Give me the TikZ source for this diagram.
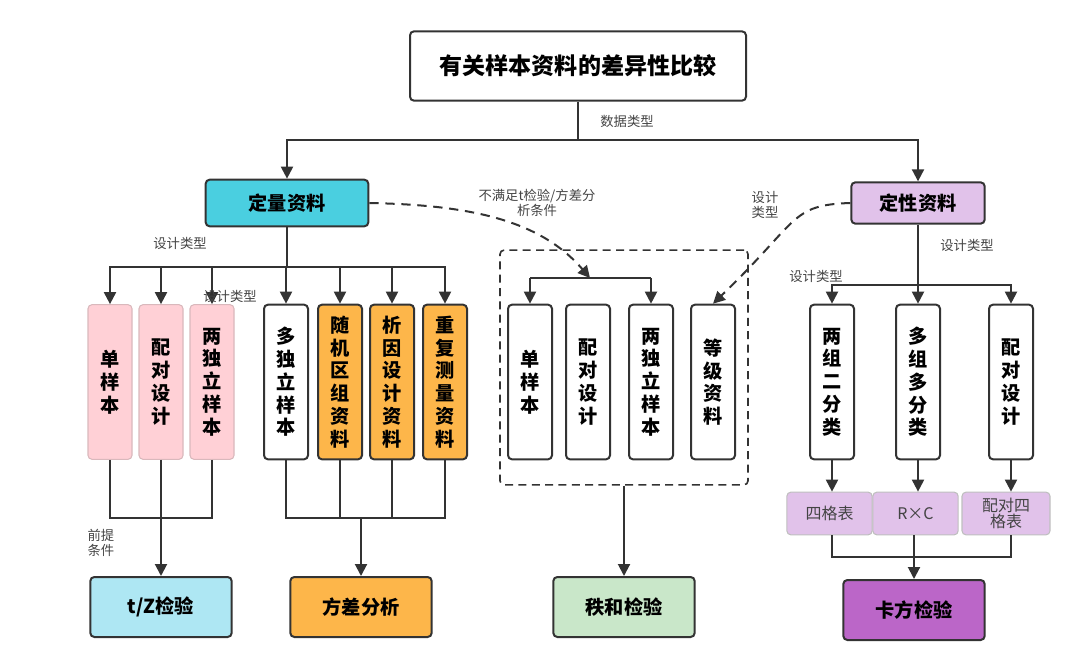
\documentclass[tikz,border=0pt]{standalone}
\usepackage{fontspec}
\setmainfont{Noto Sans CJK SC}
\usetikzlibrary{arrows.meta}
\definecolor{ln}{HTML}{333333}
\definecolor{cyanq}{HTML}{4ACFE0}
\definecolor{pinkq}{HTML}{FFD0D6}
\definecolor{orq}{HTML}{FDB64A}
\definecolor{lilq}{HTML}{E1C2EA}
\definecolor{tzq}{HTML}{AEE7F3}
\definecolor{grq}{HTML}{C9E7C9}
\definecolor{purq}{HTML}{BB66C8}
\definecolor{lab}{HTML}{444444}
\begin{document}
\begin{tikzpicture}[x=0.75pt,y=-0.75pt,
  box/.style={draw=ln,line width=1.5pt,rounded corners=3pt,align=center,inner sep=0pt},
  vbox/.style={box,minimum width=33pt,minimum height=116pt,font=\Large\bfseries\linespread{0.95}\selectfont,fill=white},
  pbox/.style={vbox,fill=pinkq,draw=pinkq!70!gray,line width=0.8pt},
  obox/.style={vbox,fill=orq},
  tbox/.style={box,minimum width=106pt,minimum height=45pt,font=\Large\bfseries},
  sbox/.style={draw=gray!50,line width=0.8pt,rounded corners=3pt,fill=lilq,align=center,inner sep=0pt,minimum height=32pt,text=lab,font=\large\linespread{0.9}\selectfont},
  con/.style={draw=ln,line width=1.5pt},
  arr/.style={con,-{Triangle[length=9pt,width=9pt]}},
  dsh/.style={draw=ln,line width=1.5pt,dash pattern=on 7pt off 5pt},
  lbl/.style={text=lab,font=\normalsize\linespread{0.9}\selectfont,align=center,inner sep=1pt}]
\useasboundingbox (0,0) rectangle (1080,670);
\node[box,minimum width=252pt,minimum height=52pt,font=\LARGE\bfseries] (T) at (578,66) {有关样本资料的差异性比较};
\node[lbl] (l0) at (627,121) {数据类型};
\node[box,fill=cyanq,minimum width=122pt,minimum height=35pt,font=\Large\bfseries] (A) at (287,203) {定量资料};
\node[box,fill=lilq,minimum width=100pt,minimum height=31pt,font=\Large\bfseries] (B) at (918,203) {定性资料};
\coordinate (t0) at (578,140);
\draw[con] (T.south) -- (t0);
\draw[arr] (t0) -| (A.north);
\draw[arr] (t0) -| (B.north);
% left group
\node[pbox] (p1) at (110,382) {单\\样\\本};
\node[pbox] (p2) at (161,382) {配\\对\\设\\计};
\node[pbox] (p3) at (212,382) {两\\独\\立\\样\\本};
\node[vbox] (o0) at (286,382) {多\\独\\立\\样\\本};
\node[obox] (o1) at (340,382) {随\\机\\区\\组\\资\\料};
\node[obox] (o2) at (392,382) {析\\因\\设\\计\\资\\料};
\node[obox] (o3) at (445,382) {重\\复\\测\\量\\资\\料};
\coordinate (a0) at (287,267);
\draw[con] (A.south) -- (a0);
\foreach \n in {p1,p2,p3,o0,o1,o2,o3} \draw[arr] (a0) -| (\n.north);
\node[lbl] at (180,243) {设计类型};
\node[lbl] at (230,296) {设计类型};
\node[tbox,fill=tzq] (TZ) at (161,607) {t/Z检验};
\node[tbox,fill=orq] (FC) at (361,607) {方差分析};
\coordinate (b1) at (161,518);
\coordinate (b2) at (361,518);
\draw[con] (p1.south) |- (b1) (p3.south) |- (b1) (p2.south) -- (b1);
\draw[arr] (b1) -- (TZ.north);
\node[lbl,anchor=west] at (86,543) {前提\\条件};
\draw[con] (o0.south) |- (b2) (o3.south) |- (b2) (o1.south) -- (o1.south|-b2) (o2.south) -- (o2.south|-b2);
\draw[arr] (b2) -- (FC.north);
% middle
\node[draw=ln,line width=1.2pt,dash pattern=on 6pt off 4pt,rounded corners=3pt,minimum width=186pt,minimum height=176pt] (M) at (624,367.5) {};
\node[vbox] (m1) at (530,382) {单\\样\\本};
\node[vbox] (m2) at (588,382) {配\\对\\设\\计};
\node[vbox] (m3) at (651,382) {两\\独\\立\\样\\本};
\node[vbox] (m4) at (713,382) {等\\级\\资\\料};
\coordinate (c0) at (590,278);
\draw[con] (m1.north|-c0) -- (m3.north|-c0);
\draw[arr] (m1.north|-c0) -- (m1.north);
\draw[arr] (m3.north|-c0) -- (m3.north);
\draw[dsh,-{Triangle[length=9pt,width=9pt]}] (A.east) .. controls (470,205) and (540,220) .. (c0);
\node[lbl] at (537,203) {不满足t检验/方差分\\析条件};
\draw[dsh,-{Triangle[length=9pt,width=9pt]}] (B.west) .. controls (790,205) and (800,220) .. (m4.north);
\node[lbl] at (765,205) {设计\\类型};
\node[tbox,fill=grq] (RS) at (624,607) {秩和检验};
\draw[arr] (M.south) -- (RS.north);
% right
\node[vbox] (r1) at (832,382) {两\\组\\二\\分\\类};
\node[vbox] (r2) at (918,382) {多\\组\\多\\分\\类};
\node[vbox] (r3) at (1011,382) {配\\对\\设\\计};
\coordinate (d0) at (918,285);
\draw[con] (B.south) -- (d0);
\draw[arr] (d0) -| (r1.north);
\draw[arr] (d0) -- (r2.north);
\draw[arr] (d0) -| (r3.north);
\node[lbl] at (967,245) {设计类型};
\node[lbl] at (816,276) {设计类型};
\node[sbox,minimum width=64pt] (s1) at (829.5,513.5) {四格表};
\node[sbox,minimum width=64pt] (s2) at (915.5,513.5) {R×C};
\node[sbox,minimum width=66pt] (s3) at (1006,513.5) {配对四\\格表};
\draw[arr] (r1.south) -- (r1.south|-s1.north);
\draw[arr] (r2.south) -- (r2.south|-s2.north);
\draw[arr] (r3.south) -- (r3.south|-s3.north);
\node[tbox,fill=purq] (KF) at (914,610) {卡方检验};
\coordinate (e0) at (914,557);
\draw[con] (r1.south|-s1.south) |- (e0) (r3.south|-s3.south) |- (e0) (e0|-s2.south) -- (e0);
\draw[arr] (e0) -- (KF.north);
\end{tikzpicture}
\end{document}
